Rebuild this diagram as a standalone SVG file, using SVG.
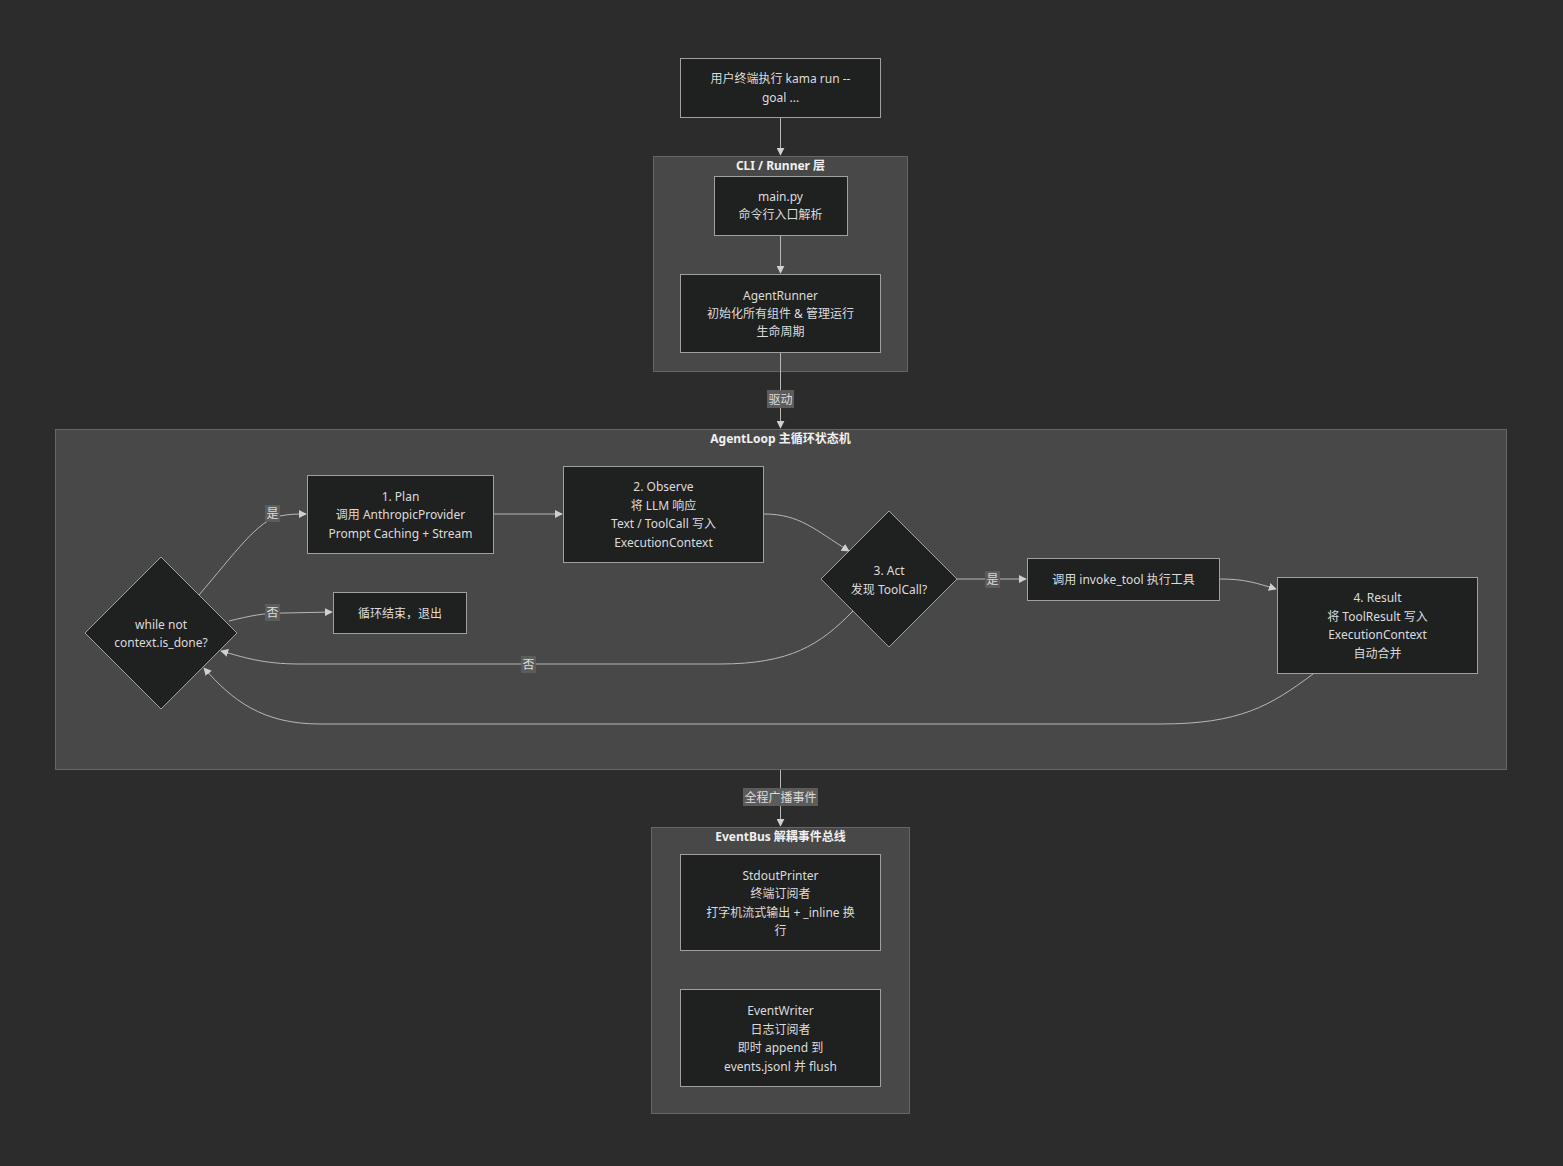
<svg xmlns="http://www.w3.org/2000/svg" width="1563" height="1166" viewBox="0 0 1563 1166">
<style>
.t{font-family:"Noto Sans","Noto Sans CJK SC",sans-serif;font-size:12px;fill:#dcdcdc;text-anchor:middle;dominant-baseline:central}
.ct{font-family:"Noto Sans","Noto Sans CJK SC",sans-serif;font-size:12px;font-weight:bold;fill:#f0f0f0;text-anchor:middle;dominant-baseline:central}
.cl{fill:#484848;stroke:#666;stroke-width:1}
.n{fill:#1f2020;stroke:#a0a0a0;stroke-width:1}
.e{fill:none;stroke:#b8b8b8;stroke-width:1}
.lb{fill:#5c5c5c}
</style>
<defs>
<marker id="ah" viewBox="0 0 10 10" refX="9" refY="5" markerWidth="8" markerHeight="8" markerUnits="userSpaceOnUse" orient="auto">
<path d="M0,0 L10,5 L0,10 z" fill="#d0d0d0"/>
</marker>
</defs>
<rect width="1563" height="1166" fill="#2c2c2d"/>

<g id="cluster-cli">
<rect class="cl" x="653.5" y="156.5" width="254" height="215"/>
<text class="ct" x="780.5" y="165">CLI / Runner 层</text>
</g>
<g id="cluster-loop">
<rect class="cl" x="55.5" y="429.5" width="1451" height="340"/>
<text class="ct" x="780.5" y="438">AgentLoop 主循环状态机</text>
</g>
<g id="cluster-bus">
<rect class="cl" x="651.5" y="827.5" width="258" height="286"/>
<text class="ct" x="780.5" y="836">EventBus 解耦事件总线</text>
</g>

<g id="connectors">
<path class="e" d="M780.5,118 L780.5,155" marker-end="url(#ah)"/>
<path class="e" d="M780.5,236 L780.5,273" marker-end="url(#ah)"/>
<path class="e" d="M780.5,353 L780.5,428" marker-end="url(#ah)"/>
<path class="e" d="M780.5,770 L780.5,826" marker-end="url(#ah)"/>
<path class="e" d="M199,595 C235,553 258,520 280,516 C290,514 296,514 306,514" marker-end="url(#ah)"/>
<path class="e" d="M229,621 C250,616 262,613 285,613 L332,612" marker-end="url(#ah)"/>
<path class="e" d="M494,514 L562,514" marker-end="url(#ah)"/>
<path class="e" d="M764,514 C800,514 815,530 849,551" marker-end="url(#ah)"/>
<path class="e" d="M957,579 L1026,579" marker-end="url(#ah)"/>
<path class="e" d="M1220,579 C1245,579 1256,583 1276,589" marker-end="url(#ah)"/>
<path class="e" d="M853,611 C820,645 790,664 720,664 L300,664 C262,664 243,657 221,651" marker-end="url(#ah)"/>
<path class="e" d="M1313,674 C1270,706 1240,724 1160,724 L320,724 C262,724 232,700 204,668" marker-end="url(#ah)"/>
<rect class="lb" x="767" y="390" width="27" height="18"/>
<text class="t" x="780.5" y="399">驱动</text>
<rect class="lb" x="743" y="788" width="75" height="18"/>
<text class="t" x="780.5" y="797">全程广播事件</text>
<rect class="lb" x="265" y="505" width="15" height="17"/>
<text class="t" x="272.5" y="513">是</text>
<rect class="lb" x="265" y="604" width="15" height="17"/>
<text class="t" x="272.5" y="612">否</text>
<rect class="lb" x="521" y="656" width="15" height="17"/>
<text class="t" x="528.5" y="664">否</text>
<rect class="lb" x="985" y="571" width="15" height="17"/>
<text class="t" x="992.5" y="579">是</text>
</g>

<g id="node-start">
<rect class="n" x="680.5" y="58.5" width="200" height="59"/>
<text class="t" x="780.5" y="78">用户终端执行 kama run --</text>
<text class="t" x="780.5" y="97">goal ...</text>
</g>
<g id="node-main">
<rect class="n" x="714.5" y="176.5" width="133" height="59"/>
<text class="t" x="780.5" y="196">main.py</text>
<text class="t" x="780.5" y="214">命令行入口解析</text>
</g>
<g id="node-runner">
<rect class="n" x="680.5" y="274.5" width="200" height="78"/>
<text class="t" x="780.5" y="295">AgentRunner</text>
<text class="t" x="780.5" y="313">初始化所有组件 &amp; 管理运行</text>
<text class="t" x="780.5" y="331">生命周期</text>
</g>
<g id="node-while">
<polygon class="n" points="161,557 237,633 161,709 85,633"/>
<text class="t" x="161" y="624">while not</text>
<text class="t" x="161" y="642">context.is_done?</text>
</g>
<g id="node-plan">
<rect class="n" x="307.5" y="475.5" width="186" height="78"/>
<text class="t" x="400.5" y="496">1. Plan</text>
<text class="t" x="400.5" y="514">调用 AnthropicProvider</text>
<text class="t" x="400.5" y="533">Prompt Caching + Stream</text>
</g>
<g id="node-exit">
<rect class="n" x="333.5" y="592.5" width="133" height="41"/>
<text class="t" x="400" y="613">循环结束，退出</text>
</g>
<g id="node-observe">
<rect class="n" x="563.5" y="466.5" width="200" height="96"/>
<text class="t" x="663.5" y="486">2. Observe</text>
<text class="t" x="663.5" y="505">将 LLM 响应</text>
<text class="t" x="663.5" y="523">Text / ToolCall 写入</text>
<text class="t" x="663.5" y="542">ExecutionContext</text>
</g>
<g id="node-act">
<polygon class="n" points="889,511 957,579 889,647 821,579"/>
<text class="t" x="889" y="570">3. Act</text>
<text class="t" x="889" y="589">发现 ToolCall?</text>
</g>
<g id="node-invoke">
<rect class="n" x="1027.5" y="558.5" width="192" height="42"/>
<text class="t" x="1123.5" y="579">调用 invoke_tool 执行工具</text>
</g>
<g id="node-result">
<rect class="n" x="1277.5" y="577.5" width="200" height="96"/>
<text class="t" x="1377.5" y="597">4. Result</text>
<text class="t" x="1377.5" y="616">将 ToolResult 写入</text>
<text class="t" x="1377.5" y="634">ExecutionContext</text>
<text class="t" x="1377.5" y="653">自动合并</text>
</g>
<g id="node-stdout">
<rect class="n" x="680.5" y="854.5" width="200" height="96"/>
<text class="t" x="780.5" y="875">StdoutPrinter</text>
<text class="t" x="780.5" y="893">终端订阅者</text>
<text class="t" x="780.5" y="912">打字机流式输出 + _inline 换</text>
<text class="t" x="780.5" y="930">行</text>
</g>
<g id="node-writer">
<rect class="n" x="680.5" y="989.5" width="200" height="97"/>
<text class="t" x="780.5" y="1010">EventWriter</text>
<text class="t" x="780.5" y="1029">日志订阅者</text>
<text class="t" x="780.5" y="1047">即时 append 到</text>
<text class="t" x="780.5" y="1066">events.jsonl 并 flush</text>
</g>
</svg>
